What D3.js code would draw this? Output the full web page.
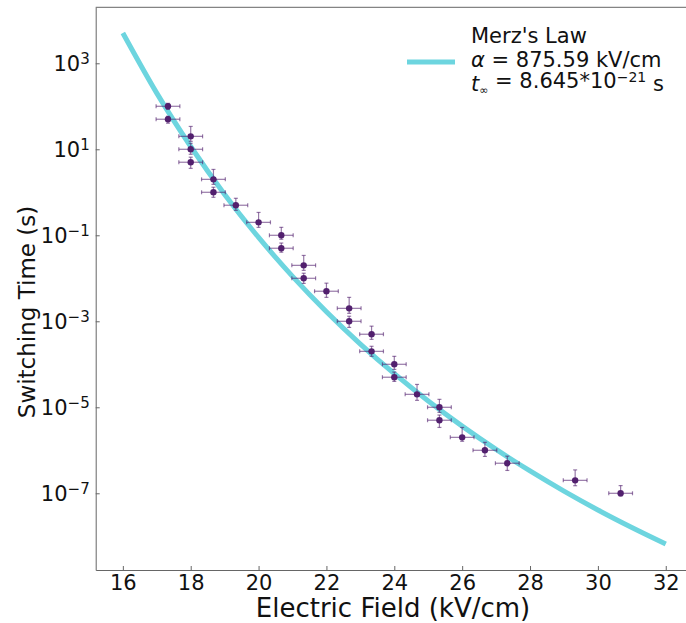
<!DOCTYPE html>
<html>
<head>
<meta charset="utf-8">
<title>Switching time vs electric field</title>
<script src="https://d3js.org/d3.v7.min.js"></script>
<style>
  body { margin: 0; background: #fff; }
  svg { display: block; font-family: "DejaVu Sans", sans-serif; }
</style>
</head>
<body>
<svg></svg>
<script>

// measured points (electric field in kV/cm, switching time in s)
var fieldE = [17.33, 17.33, 18, 18, 18, 18.67, 18.67, 19.33, 20, 20.67, 20.67, 21.33, 21.33, 22,
              22.67, 22.67, 23.33, 23.33, 24, 24, 24.67, 25.33, 25.33, 26, 26.67, 27.33, 29.33, 30.67];
var timeT = [100, 50, 20, 10, 5, 2, 1, 0.5, 0.2, 0.1, 0.05, 0.02, 0.01, 0.005,
             0.002, 0.001, 5e-4, 2e-4, 1e-4, 5e-5, 2e-5, 1e-5, 5e-6, 2e-6, 1e-6, 5e-7, 2e-7, 1e-7];
var timeErrUp = [17, 8.5, 14, 3.8, 1.55, 1.4, 0.31, 0.225, 0.14, 0.053, 0.016, 0.014, 0.0031, 0.0027,
                 0.0016, 0.00031, 2.7e-4, 6.2e-5, 5.3e-5, 1.6e-5, 1.4e-5, 5.3e-6, 1.6e-6, 1.4e-6, 5.3e-7, 2.3e-7, 1.5e-7, 5.1e-8];
var timeErrLo = [15, 9.5, 4.7, 2.35, 1.4, 0.47, 0.235, 0.12, 0.047, 0.019, 0.0095, 0.0047, 0.0024, 0.0014,
                 0.00047, 0.00028, 1.2e-4, 4.7e-5, 2.4e-5, 1.0e-5, 5.5e-6, 2.4e-6, 1.6e-6, 3.8e-7, 2.8e-7, 1.6e-7, 5e-8, 1.35e-8];
var fieldErr = [0.35, 0.35, 0.35, 0.35, 0.35, 0.35, 0.35, 0.35, 0.35, 0.35, 0.35, 0.35, 0.35, 0.35,
                0.35, 0.35, 0.35, 0.35, 0.35, 0.35, 0.35, 0.35, 0.35, 0.35, 0.35, 0.35, 0.35, 0.35];

// Merz's law fit curve
var fitE = [16, 17, 18, 19, 20, 21, 22, 23, 24, 25, 26, 27, 28, 29, 30, 31, 32];
var fitT = [5050, 202, 11.6, 0.893, 0.0891, 0.0111, 1.667e-3, 2.95e-4, 6.04e-5, 1.40e-5,
            3.65e-6, 1.05e-6, 3.30e-7, 1.12e-7, 4.09e-8, 1.60e-8, 6.61e-9];

var xTicks = [16, 18, 20, 22, 24, 26, 28, 30, 32];
var yTickExp = [3, 1, -1, -3, -5, -7];

var legendLines = ["Merz's Law", "875.59 kV/cm", "8.645*10"];

var W = 686, H = 623;
// plot box (right edge lies past the picture, as in the reference)
var pLeft = 95.7, pTop = 7.3, pRight = 692.9, pBottom = 570;

var svg = d3.select('svg').attr('width', W).attr('height', H);

var x = d3.scaleLinear().domain([15.2, 32.8]).range([pLeft, pRight]);
var y = d3.scaleLog().domain([Math.pow(10, -8.784), Math.pow(10, 4.302)]).range([pBottom, pTop]);

var dotColor = '#52206e';
var lineColor = '#6dd5df';

svg.append('clipPath').attr('id', 'plotclip')
  .append('rect').attr('x', pLeft).attr('y', pTop).attr('width', pRight - pLeft).attr('height', pBottom - pTop);

// fit curve
var fit = fitE.map(function(e, i) { return {e: e, t: fitT[i]}; });
var line = d3.line()
  .x(function(d) { return x(d.e); })
  .y(function(d) { return y(d.t); })
  .curve(d3.curveMonotoneX);

svg.append('path')
  .datum(fit)
  .attr('clip-path', 'url(#plotclip)')
  .attr('d', line)
  .attr('fill', 'none')
  .attr('stroke', lineColor)
  .attr('stroke-width', 5);

// data with error bars
var data = fieldE.map(function(e, i) {
  return {e: e, t: timeT[i], up: timeErrUp[i], lo: timeErrLo[i], ex: fieldErr[i]};
});

var eb = svg.append('g')
  .attr('stroke', dotColor)
  .attr('stroke-opacity', 0.6)
  .attr('stroke-width', 1.2);

var cap = 2;
data.forEach(function(d) {
  var cx = x(d.e), cy = y(d.t);
  var x0 = x(d.e - d.ex), x1 = x(d.e + d.ex);
  var y0 = y(d.t + d.up), y1 = y(d.t - d.lo);
  eb.append('line').attr('x1', x0).attr('x2', x1).attr('y1', cy).attr('y2', cy);
  eb.append('line').attr('x1', x0).attr('x2', x0).attr('y1', cy - cap).attr('y2', cy + cap);
  eb.append('line').attr('x1', x1).attr('x2', x1).attr('y1', cy - cap).attr('y2', cy + cap);
  eb.append('line').attr('x1', cx).attr('x2', cx).attr('y1', y0).attr('y2', y1);
  eb.append('line').attr('x1', cx - cap).attr('x2', cx + cap).attr('y1', y0).attr('y2', y0);
  eb.append('line').attr('x1', cx - cap).attr('x2', cx + cap).attr('y1', y1).attr('y2', y1);
});

svg.selectAll('.dot')
  .data(data)
  .enter().append('circle')
  .attr('class', 'dot')
  .attr('cx', function(d) { return x(d.e); })
  .attr('cy', function(d) { return y(d.t); })
  .attr('r', 3.2)
  .attr('fill', dotColor);

// axes, ticks pointing inward
var spineColor = '#666';

var xAxis = svg.append('g')
  .attr('transform', 'translate(0,' + pBottom + ')')
  .call(d3.axisBottom(x).tickValues(xTicks).tickSizeInner(-4).tickSizeOuter(0).tickPadding(5)
        .tickFormat(d3.format('d')));
xAxis.selectAll('text').attr('font-size', 21).attr('fill', '#111').attr('font-family', 'DejaVu Sans');

var yAxis = svg.append('g')
  .attr('transform', 'translate(' + pLeft + ',0)')
  .call(d3.axisLeft(y).tickValues(yTickExp.map(function(p) { return Math.pow(10, p); }))
        .tickSizeInner(-4).tickSizeOuter(0).tickPadding(6).tickFormat(''));
yAxis.selectAll('.tick text').each(function(d, i) {
  var p = Math.round(Math.log10(d));
  var t = d3.select(this).attr('font-size', 21).attr('fill', '#111').attr('dy', '0.35em')
    .attr('font-family', 'DejaVu Sans');
  t.append('tspan').text('10');
  t.append('tspan').attr('dy', '-0.45em').attr('font-size', 15)
    .text(p < 0 ? '\u2212' + (-p) : String(p));
});

[xAxis, yAxis].forEach(function(a) {
  a.select('.domain').attr('stroke', spineColor);
  a.selectAll('.tick line').attr('stroke', spineColor);
});

// top spine
svg.append('line')
  .attr('x1', pLeft).attr('x2', pRight).attr('y1', pTop).attr('y2', pTop)
  .attr('stroke', spineColor);

// axis labels
svg.append('text')
  .attr('x', 393)
  .attr('y', 617)
  .attr('text-anchor', 'middle')
  .attr('font-size', 26)
  .attr('fill', '#111')
  .text('Electric Field (kV/cm)');

svg.append('text')
  .attr('transform', 'translate(35,312) rotate(-90)')
  .attr('text-anchor', 'middle')
  .attr('font-size', 23)
  .attr('fill', '#111')
  .text('Switching Time (s)');

// legend
var lg = svg.append('g').attr('transform', 'translate(407,0)');
lg.append('line')
  .attr('x1', 0).attr('x2', 48).attr('y1', 62).attr('y2', 62)
  .attr('stroke', lineColor).attr('stroke-width', 5);

lg.append('text').attr('x', 64).attr('y', 43).attr('font-size', 21).attr('fill', '#111')
  .text(legendLines[0]);

var l2 = lg.append('text').attr('x', 64).attr('y', 67).attr('font-size', 21).attr('fill', '#111');
l2.append('tspan').attr('font-style', 'italic').text('\u03b1');
l2.append('tspan').text(' = ' + legendLines[1]);

var l3 = lg.append('text').attr('x', 64).attr('y', 91).attr('font-size', 21).attr('fill', '#111');
l3.append('tspan').attr('font-style', 'italic').text('t');
l3.append('tspan').attr('font-size', 11).attr('dy', '0.3em').text('\u221e');
l3.append('tspan').attr('dy', '-0.3em').text(' = ' + legendLines[2]);
l3.append('tspan').attr('font-size', 14).attr('dy', '-0.45em').text('\u221221');
l3.append('tspan').attr('dy', '0.45em').text(' s');

</script>
</body>
</html>
